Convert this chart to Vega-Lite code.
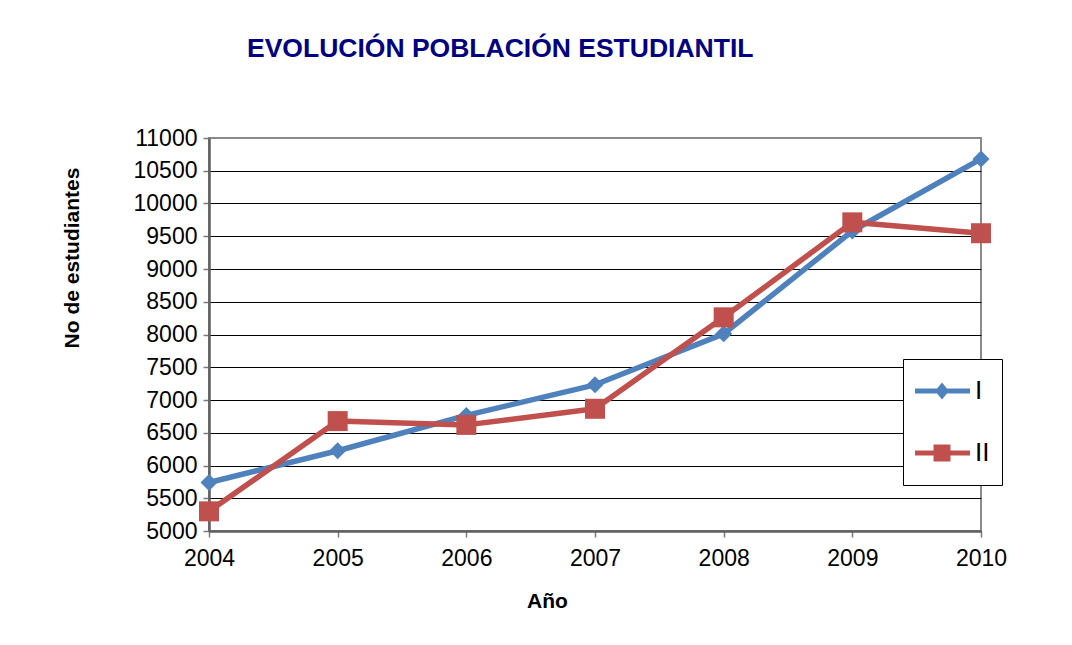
{
  "$schema": "https://vega.github.io/schema/vega-lite/v6.json",
  "width": 772,
  "height": 393,
  "autosize": {"type": "none"},
  "padding": {"left": 209, "top": 138, "right": 91, "bottom": 114},
  "background": "white",
  "title": {
    "text": "EVOLUCIÓN POBLACIÓN ESTUDIANTIL",
    "anchor": "start",
    "frame": "group",
    "dx": 38,
    "offset": 44,
    "fontSize": 26.5,
    "fontWeight": "bold",
    "color": "#000080",
    "font": "Liberation Sans",
    "baseline": "alphabetic"
  },
  "data": {
    "values": [
      {"year": 2004, "series": "I", "students": 5740},
      {"year": 2005, "series": "I", "students": 6225},
      {"year": 2006, "series": "I", "students": 6765},
      {"year": 2007, "series": "I", "students": 7232},
      {"year": 2008, "series": "I", "students": 8010},
      {"year": 2009, "series": "I", "students": 9580},
      {"year": 2010, "series": "I", "students": 10680},
      {"year": 2004, "series": "II", "students": 5300},
      {"year": 2005, "series": "II", "students": 6678},
      {"year": 2006, "series": "II", "students": 6620},
      {"year": 2007, "series": "II", "students": 6866},
      {"year": 2008, "series": "II", "students": 8262},
      {"year": 2009, "series": "II", "students": 9712},
      {"year": 2010, "series": "II", "students": 9546}
    ]
  },
  "encoding": {
    "x": {
      "field": "year",
      "type": "quantitative",
      "scale": {"domain": [2004, 2010], "nice": false, "zero": false},
      "axis": {
        "values": [2004, 2005, 2006, 2007, 2008, 2009, 2010],
        "format": "d",
        "grid": false,
        "labelPadding": 10,
        "labelFlush": false,
        "labelOverlap": false,
        "labelFontSize": 23,
        "labelFont": "Liberation Sans",
        "labelColor": "black",
        "tickSize": 6,
        "tickWidth": 1.5,
        "tickColor": "#7a7a7a",
        "domainColor": "#5f5f5f",
        "domainWidth": 2.5,
        "title": "Año",
        "titleFont": "Liberation Sans",
        "titleFontSize": 21,
        "titleFontWeight": "bold",
        "titleColor": "black",
        "titleX": 338,
        "titleY": 76,
        "titleBaseline": "alphabetic",
        "titleAlign": "center"
      }
    },
    "y": {
      "field": "students",
      "type": "quantitative",
      "scale": {"domain": [5000, 11000], "nice": false, "zero": false},
      "axis": {
        "values": [5000, 5500, 6000, 6500, 7000, 7500, 8000, 8500, 9000, 9500, 10000, 10500, 11000],
        "format": "d",
        "grid": true,
        "gridColor": {"condition": {"test": "datum.value === 11000", "value": "transparent"}, "value": "black"},
        "gridWidth": 1,
        "labelPadding": 6,
        "labelFlush": false,
        "labelOverlap": false,
        "labelFontSize": 23,
        "labelFont": "Liberation Sans",
        "labelColor": "black",
        "tickSize": 6,
        "tickWidth": 1.5,
        "tickColor": "#7a7a7a",
        "domainColor": "#5f5f5f",
        "domainWidth": 2.5,
        "title": "No de estudiantes",
        "titleFont": "Liberation Sans",
        "titleFontSize": 21,
        "titleFontWeight": "bold",
        "titleColor": "black",
        "titleAngle": -90,
        "titleX": -131,
        "titleY": 119.5,
        "titleBaseline": "alphabetic",
        "titleAlign": "center"
      }
    },
    "color": {
      "field": "series",
      "type": "nominal",
      "scale": {"domain": ["I", "II"], "range": ["#4F81BD", "#C0504D"]},
      "legend": {
        "orient": "none",
        "legendX": 694,
        "legendY": 221,
        "title": null,
        "padding": 12,
        "strokeColor": "black",
        "fillColor": "white",
        "symbolSize": 1600,
        "clipHeight": 40,
        "rowPadding": 22,
        "labelOffset": 20,
        "labelFontSize": 26,
        "labelFont": "Liberation Sans",
        "labelColor": "black",
        "labelBaseline": "middle",
        "symbolStrokeWidth": 0,
        "encode": {
          "symbols": {
            "update": {
              "shape": {"signal": "datum.value === 'I' ? 'M-1,-0.125 L0.103,-0.125 L0.35,-0.425 L0.597,-0.125 L1.75,-0.125 L1.75,0.125 L0.597,0.125 L0.35,0.425 L0.103,0.125 L-1,0.125 Z' : 'M-1,-0.125 L-0.075,-0.125 L-0.075,-0.425 L0.775,-0.425 L0.775,-0.125 L1.75,-0.125 L1.75,0.125 L0.775,0.125 L0.775,0.425 L-0.075,0.425 L-0.075,0.125 L-1,0.125 Z'"},
              "size": {"value": 1600},
              "fill": {"signal": "datum.value === 'I' ? '#4F81BD' : '#C0504D'"},
              "fillOpacity": {"value": 1},
              "opacity": {"value": 1},
              "stroke": {"value": "transparent"},
              "strokeWidth": {"value": 0}
            }
          }
        }
      }
    }
  },
  "layer": [
    {
      "mark": {"type": "line", "strokeWidth": 5.5, "strokeJoin": "round", "strokeCap": "round"}
    },
    {
      "transform": [{"filter": "datum.series === 'I'"}],
      "mark": {"type": "point", "filled": true, "opacity": 1, "shape": "diamond", "size": 289}
    },
    {
      "transform": [{"filter": "datum.series === 'II'"}],
      "mark": {"type": "point", "filled": true, "opacity": 1, "shape": "square", "size": 400}
    }
  ],
  "config": {
    "view": {"stroke": "#8a8a8a", "strokeWidth": 2},
    "font": "Liberation Sans"
  }
}
